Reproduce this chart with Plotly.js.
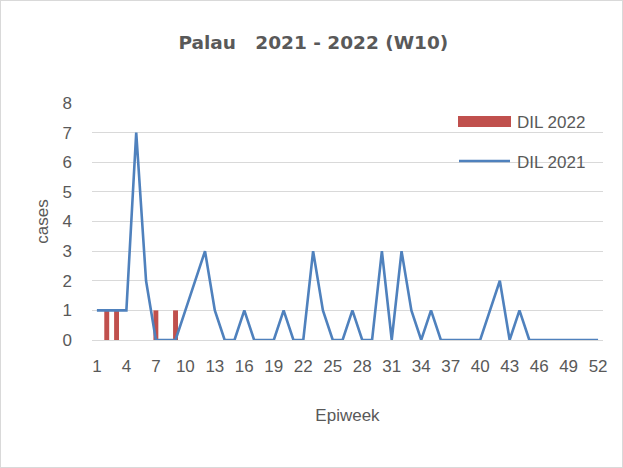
<!DOCTYPE html>
<html><head><meta charset="utf-8">
<script src="https://cdn.plot.ly/plotly-3.0.1.min.js"></script>
<style>html,body{margin:0;padding:0;background:#fff}#c{width:621px;height:466px;border:1px solid #d9d9d9}</style>
</head><body><div id="c"></div>
<script>
const weeks2021 = Array.from({length:52},(_,i)=>i+1);
const dil2021 = [1,1,1,1,7,2,0,0,0,1,2,3,1,0,0,1,0,0,0,1,0,0,3,1,0,0,1,0,0,3,0,3,1,0,1,0,0,0,0,0,1,2,0,1,0,0,0,0,0,0,0,0];
const weeks2022 = [1,2,3,4,5,6,7,8,9,10];
const dil2022 = [0,1,1,0,0,0,1,0,1,0];
const xTicks = [1,4,7,10,13,16,19,22,25,28,31,34,37,40,43,46,49,52];
const names = ['DIL 2022','DIL 2021'];

const grey = '#595959';
const red = '#c0504d', blue = '#4f81bd';
const fontFam = 'Liberation Sans, Arial, sans-serif';
const traces = [
  {type:'bar', name:names[0], x:weeks2022, y:dil2022, width:0.5, marker:{color:red}},
  {type:'scatter', mode:'lines', name:names[1], x:weeks2021, y:dil2021, line:{color:blue, width:2.6}}
];
// manual legend (plot area: page x 92..603, y 103..340)
const px = v => (v-92)/511, py = v => (340-v)/237;
const layout = {
  width:621, height:466,
  margin:{l:91, r:19, t:102, b:127},
  paper_bgcolor:'#fff', plot_bgcolor:'#fff',
  font:{family:fontFam, size:17, color:grey},
  title:{text:'<b>Palau\u00a0\u00a0\u00a02021 - 2022 (W10)</b>', x:0.503, xanchor:'center', y:0.91, yanchor:'middle',
         font:{size:18.5, color:grey, family:'DejaVu Sans, sans-serif'}},
  showlegend:false,
  shapes:[
    {type:'rect', xref:'paper', yref:'paper', x0:px(458), x1:px(511), y0:py(127), y1:py(116), fillcolor:red, line:{width:0}},
    {type:'line', xref:'paper', yref:'paper', x0:px(459), x1:px(510), y0:py(161), y1:py(161), line:{color:blue, width:2.6}}
  ],
  annotations:[
    {xref:'paper', yref:'paper', x:px(515), y:py(122), xanchor:'left', yanchor:'middle', text:names[0], showarrow:false, font:{size:17, color:grey}},
    {xref:'paper', yref:'paper', x:px(515), y:py(162), xanchor:'left', yanchor:'middle', text:names[1], showarrow:false, font:{size:17, color:grey}}
  ],
  xaxis:{range:[0.5,52.5], tickmode:'array', tickvals:xTicks, ticktext:xTicks.map(String),
         showgrid:false, zeroline:false, showline:false, ticks:'', ticklabelstandoff:14,
         title:{text:'Epiweek', font:{size:17, color:grey}, standoff:34},
         tickfont:{size:17, color:grey}},
  yaxis:{range:[0,8], dtick:1, showgrid:true, gridcolor:'#d9d9d9', gridwidth:1,
         zeroline:true, zerolinecolor:'#d9d9d9', zerolinewidth:1, showline:false, ticks:'',
         ticklabelstandoff:19,
         title:{text:'cases', font:{size:17, color:grey}, standoff:9},
         tickfont:{size:17, color:grey}},
  bargap:0.5
};
Plotly.newPlot('c', traces, layout, {displayModeBar:false, staticPlot:true});
</script></body></html>
